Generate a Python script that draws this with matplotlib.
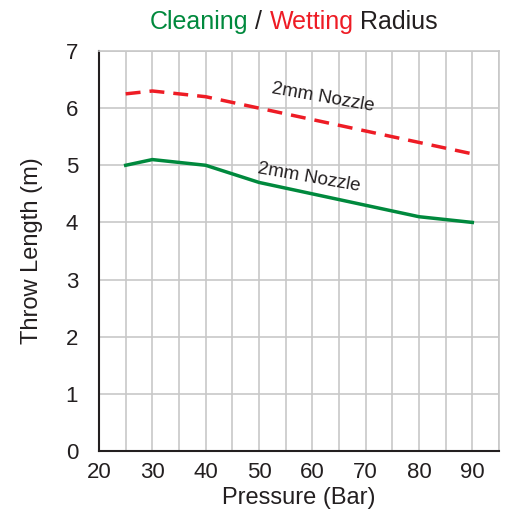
import matplotlib
matplotlib.use('Agg')
import matplotlib.pyplot as plt
from matplotlib.ticker import MultipleLocator

plt.rcParams['font.family'] = ['Liberation Sans', 'DejaVu Sans']

# data
pressure = [25, 30, 40, 50, 60, 70, 80, 90]
wetting = [6.25, 6.3, 6.2, 6.0, 5.8, 5.6, 5.4, 5.2]
cleaning = [5.0, 5.1, 5.0, 4.7, 4.5, 4.3, 4.1, 4.0]
x_ticks = [20, 30, 40, 50, 60, 70, 80, 90]
y_ticks = [0, 1, 2, 3, 4, 5, 6, 7]

GREEN = '#00893d'
RED = '#ee1c25'
GRID = '#c8c8c8'
INK = '#231f20'

fig = plt.figure(figsize=(5.05, 5.13), dpi=100)
ax = fig.add_axes([99 / 505, 62 / 513, 400 / 505, 400 / 513])

ax.plot(pressure, wetting, color=RED, lw=2.5, dashes=(4.3, 2.6), dash_capstyle='butt')
ax.plot(pressure, cleaning, color=GREEN, lw=2.5)

ax.set_xlim(20, 95)
ax.set_ylim(0, 7)
ax.xaxis.set_minor_locator(MultipleLocator(5))
ax.set_xticks(x_ticks)
ax.set_yticks(y_ticks)
ax.grid(True, which='both', color=GRID, lw=1.2)
ax.set_axisbelow(True)
ax.tick_params(which='both', length=0, labelsize=16, colors=INK)
ax.tick_params(axis='x', pad=8)
ax.tick_params(axis='y', pad=15)

for s in ['top', 'right']:
    ax.spines[s].set_color(GRID)
    ax.spines[s].set_linewidth(1.2)
for s in ['left', 'bottom']:
    ax.spines[s].set_color(INK)
    ax.spines[s].set_linewidth(1.5)

ax.set_xlabel('Pressure (Bar)', fontsize=17, color=INK, labelpad=3)
ax.set_ylabel('Throw Length (m)', fontsize=17, color=INK, labelpad=16)

ax.text(62, 6.19, '2mm Nozzle', rotation=-10, fontsize=13.5, color=INK,
        ha='center', va='center')
ax.text(59.4, 4.78, '2mm Nozzle', rotation=-10, fontsize=13.5, color=INK,
        ha='center', va='center')

# title in several colours
parts = [('Cleaning', GREEN), (' / ', INK), ('Wetting', RED), (' Radius', INK)]
fig.canvas.draw()
r = fig.canvas.get_renderer()
texts = []
for s, c in parts:
    t = fig.text(0, 1 - 22 / 513, s, color=c, fontsize=18, va='center', ha='left')
    texts.append(t)
widths = [t.get_window_extent(r).width for t in texts]
x = 294 - sum(widths) / 2
for t, w in zip(texts, widths):
    t.set_x(x / 505)
    x += w

fig.savefig('out.png', dpi=100)
